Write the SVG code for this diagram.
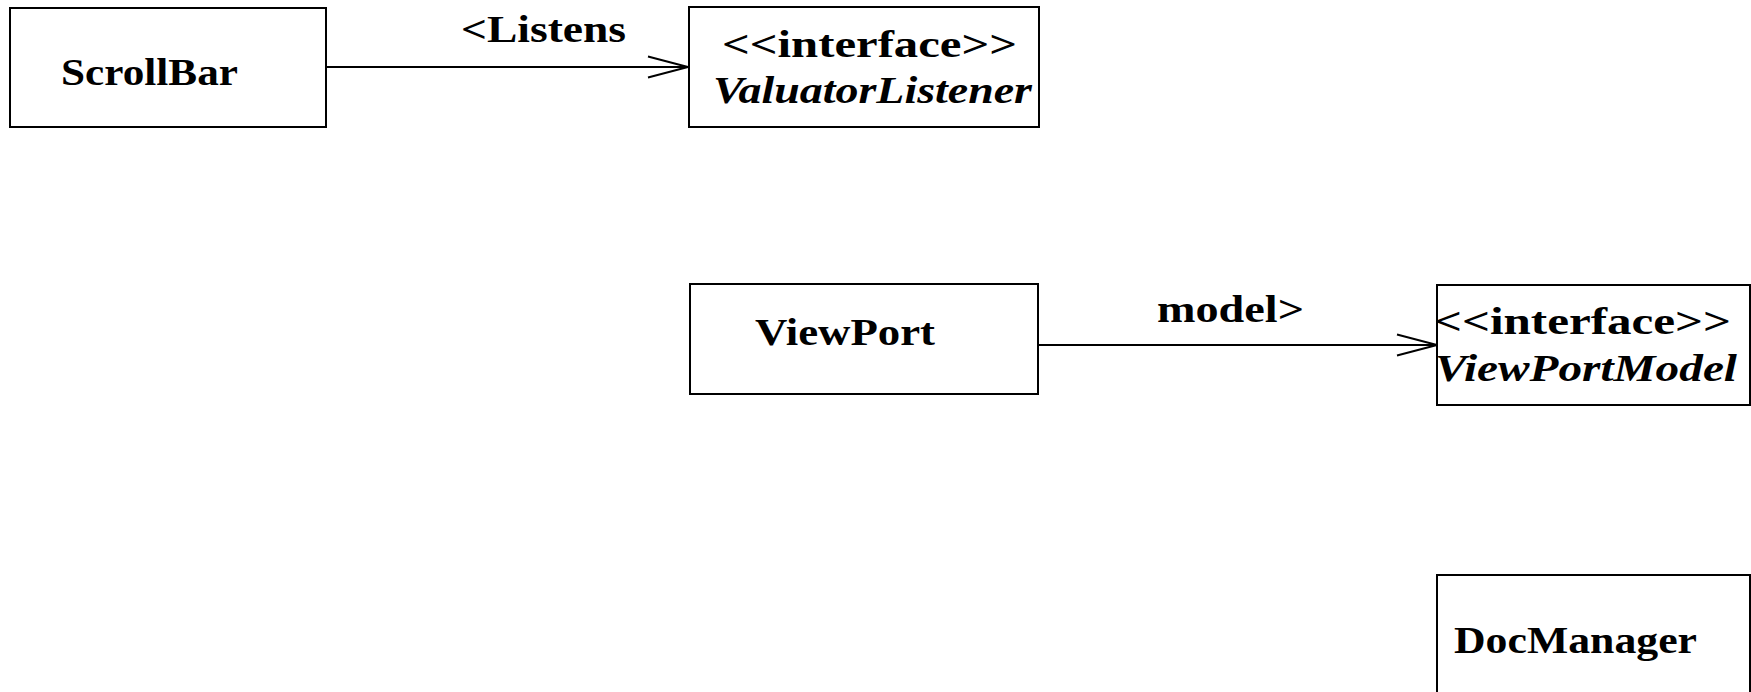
<svg xmlns="http://www.w3.org/2000/svg" width="1751" height="692" viewBox="0 0 1751 692">
<style>
.box{fill:#fff;stroke:#000;stroke-width:2}
.t{font-family:"Liberation Serif","Times New Roman",serif;font-weight:bold;font-size:38px;fill:#000}
.i{font-style:italic}
.edge{fill:none;stroke:#000;stroke-width:2}
</style>
<defs>
<marker id="open" markerWidth="44" markerHeight="26" refX="41" refY="12" orient="auto" markerUnits="userSpaceOnUse">
<path d="M1,1.5 L41,12 L1,22.5" fill="none" stroke="#000" stroke-width="2"/>
</marker>
</defs>
<rect width="1751" height="692" fill="#fff"/>
<g id="connectors">
<g id="e1"><line class="edge" x1="326" y1="67" x2="688" y2="67" marker-end="url(#open)"/>
<text class="t" x="461" y="42" textLength="165" lengthAdjust="spacingAndGlyphs">&lt;Listens</text></g>
<g id="e2"><line class="edge" x1="1038" y1="345" x2="1437" y2="345" marker-end="url(#open)"/>
<text class="t" x="1157" y="322" textLength="147" lengthAdjust="spacingAndGlyphs">model&gt;</text></g>
</g>
<g id="ScrollBar"><rect class="box" x="10" y="8" width="316" height="119"/>
<text class="t" x="61" y="85" textLength="177" lengthAdjust="spacingAndGlyphs">ScrollBar</text></g>
<g id="ValuatorListener"><rect class="box" x="689" y="7" width="350" height="120"/>
<text class="t" x="722" y="57" textLength="295" lengthAdjust="spacingAndGlyphs">&lt;&lt;interface&gt;&gt;</text>
<text class="t i" x="713" y="103" textLength="319" lengthAdjust="spacingAndGlyphs">ValuatorListener</text></g>
<g id="ViewPort"><rect class="box" x="690" y="284" width="348" height="110"/>
<text class="t" x="755" y="345" textLength="180" lengthAdjust="spacingAndGlyphs">ViewPort</text></g>
<g id="ViewPortModel"><rect class="box" x="1437" y="285" width="313" height="120"/>
<text class="t" x="1434" y="334" textLength="297" lengthAdjust="spacingAndGlyphs">&lt;&lt;interface&gt;&gt;</text>
<text class="t i" x="1435" y="381" textLength="302" lengthAdjust="spacingAndGlyphs">ViewPortModel</text></g>
<g id="DocManager"><rect class="box" x="1437" y="575" width="313" height="130"/>
<text class="t" x="1454" y="653" textLength="243" lengthAdjust="spacingAndGlyphs">DocManager</text></g>
</svg>
